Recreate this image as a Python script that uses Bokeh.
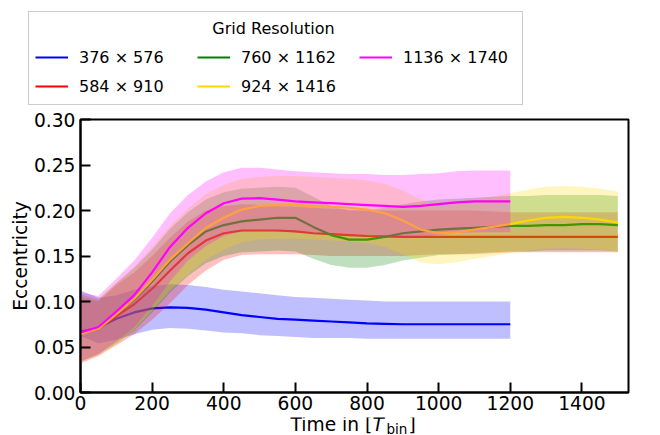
from bokeh.plotting import figure
from bokeh.layouts import column
from bokeh.models import Range1d, FixedTicker, PrintfTickFormatter, Legend, LegendItem, Label, ColumnDataSource
from bokeh.embed import file_html
from bokeh.resources import INLINE

# ---------------- data ----------------
t_short = [0, 50, 100, 150, 200, 250, 300, 350, 400, 450, 500, 550, 600, 650,
           700, 750, 800, 850, 900, 950, 1000, 1050, 1100, 1150, 1200]
t_long = [0, 50, 100, 150, 200, 250, 300, 350, 400, 450, 500, 550, 600, 650,
          700, 750, 800, 850, 900, 950, 1000, 1050, 1100, 1150, 1200, 1250,
          1300, 1350, 1400, 1450, 1500]

labels = ["376 × 576", "584 × 910", "760 × 1162", "924 × 1416", "1136 × 1740"]
colors = ["#0000ff", "#ff0000", "#008000", "#ffd700", "#ff00ff"]

blue_mean = [0.067, 0.071, 0.081, 0.088, 0.0925, 0.0935, 0.093, 0.091, 0.088, 0.085, 0.083, 0.081, 0.080,
             0.079, 0.078, 0.077, 0.076, 0.0755, 0.075, 0.075, 0.075, 0.075, 0.075, 0.075, 0.075]
blue_upper = [0.112, 0.104, 0.107, 0.113, 0.117, 0.119, 0.118, 0.116, 0.113, 0.111, 0.109, 0.107, 0.105,
              0.104, 0.103, 0.102, 0.101, 0.100, 0.100, 0.100, 0.100, 0.100, 0.100, 0.100, 0.100]
blue_lower = [0.062, 0.054, 0.058, 0.064, 0.069, 0.071, 0.070, 0.068, 0.066, 0.065, 0.063, 0.062, 0.061,
              0.060, 0.060, 0.060, 0.059, 0.059, 0.059, 0.059, 0.059, 0.059, 0.059, 0.059, 0.059]

red_mean = [0.065, 0.070, 0.084, 0.097, 0.114, 0.134, 0.153, 0.167, 0.175, 0.178, 0.178, 0.178, 0.177, 0.175,
            0.174, 0.173, 0.172, 0.1715, 0.171, 0.171, 0.171, 0.171, 0.171, 0.171, 0.171, 0.171, 0.171,
            0.171, 0.171, 0.171, 0.171]
red_upper = [0.105, 0.100, 0.118, 0.132, 0.150, 0.170, 0.188, 0.200, 0.205, 0.207, 0.206, 0.205, 0.204, 0.203,
             0.202, 0.201, 0.200, 0.200, 0.200, 0.200, 0.200, 0.200, 0.200, 0.199, 0.198, 0.198, 0.198,
             0.198, 0.198, 0.198, 0.198]
red_lower = [0.032, 0.040, 0.052, 0.064, 0.080, 0.098, 0.118, 0.134, 0.146, 0.151, 0.152, 0.152, 0.152, 0.151,
             0.150, 0.150, 0.150, 0.150, 0.150, 0.151, 0.152, 0.152, 0.152, 0.153, 0.154, 0.154, 0.154,
             0.154, 0.154, 0.154, 0.154]

green_mean = [0.065, 0.070, 0.086, 0.102, 0.122, 0.144, 0.162, 0.177, 0.184, 0.188, 0.190, 0.192, 0.192, 0.182,
              0.173, 0.168, 0.168, 0.171, 0.175, 0.177, 0.179, 0.180, 0.181, 0.182, 0.183, 0.183, 0.184,
              0.184, 0.185, 0.185, 0.184]
green_upper = [0.108, 0.102, 0.120, 0.137, 0.157, 0.180, 0.198, 0.212, 0.220, 0.224, 0.225, 0.226, 0.225, 0.215,
               0.205, 0.200, 0.200, 0.203, 0.207, 0.210, 0.212, 0.213, 0.214, 0.215, 0.216, 0.216, 0.217,
               0.217, 0.217, 0.217, 0.216]
green_lower = [0.034, 0.042, 0.054, 0.068, 0.088, 0.110, 0.128, 0.142, 0.150, 0.154, 0.155, 0.156, 0.155, 0.147,
               0.140, 0.137, 0.137, 0.140, 0.145, 0.148, 0.151, 0.152, 0.153, 0.154, 0.155, 0.155, 0.156,
               0.156, 0.156, 0.156, 0.155]

yellow_mean = [0.064, 0.070, 0.086, 0.103, 0.124, 0.146, 0.164, 0.181, 0.192, 0.201, 0.205, 0.206, 0.206, 0.205,
               0.204, 0.203, 0.201, 0.197, 0.189, 0.179, 0.175, 0.176, 0.179, 0.182, 0.185, 0.189, 0.192,
               0.193, 0.192, 0.190, 0.187]
yellow_upper = [0.108, 0.103, 0.121, 0.138, 0.160, 0.183, 0.202, 0.218, 0.228, 0.235, 0.237, 0.238, 0.238, 0.237,
                0.236, 0.235, 0.233, 0.229, 0.222, 0.212, 0.208, 0.209, 0.212, 0.215, 0.219, 0.223, 0.226,
                0.227, 0.226, 0.224, 0.221]
yellow_lower = [0.033, 0.041, 0.053, 0.069, 0.090, 0.112, 0.130, 0.146, 0.157, 0.165, 0.168, 0.169, 0.169, 0.168,
                0.167, 0.166, 0.164, 0.160, 0.152, 0.143, 0.141, 0.143, 0.147, 0.150, 0.153, 0.156, 0.158,
                0.159, 0.158, 0.157, 0.155]

magenta_mean = [0.066, 0.072, 0.089, 0.107, 0.132, 0.160, 0.181, 0.197, 0.208, 0.213, 0.2135, 0.212, 0.210,
                0.209, 0.208, 0.207, 0.206, 0.205, 0.204, 0.205, 0.207, 0.209, 0.210, 0.210, 0.210]
magenta_upper = [0.110, 0.106, 0.125, 0.145, 0.170, 0.197, 0.217, 0.232, 0.242, 0.247, 0.247, 0.245, 0.243,
                 0.242, 0.241, 0.240, 0.240, 0.239, 0.239, 0.240, 0.241, 0.243, 0.244, 0.244, 0.244]
magenta_lower = [0.034, 0.042, 0.056, 0.072, 0.095, 0.122, 0.145, 0.161, 0.172, 0.177, 0.178, 0.177, 0.176,
                 0.175, 0.174, 0.173, 0.172, 0.171, 0.170, 0.171, 0.173, 0.175, 0.176, 0.176, 0.176]

x_ticks = [0, 200, 400, 600, 800, 1000, 1200, 1400]
y_ticks = [0.0, 0.05, 0.10, 0.15, 0.20, 0.25, 0.30]

series = [
    (t_short, blue_mean, blue_upper, blue_lower),
    (t_long, red_mean, red_upper, red_lower),
    (t_long, green_mean, green_upper, green_lower),
    (t_long, yellow_mean, yellow_upper, yellow_lower),
    (t_short, magenta_mean, magenta_upper, magenta_lower),
]

FONT = "DejaVu Sans"
W = 660
TOP_H = 107
BOT_H = 18
MAIN_H = 435 - TOP_H - BOT_H

# ---------------- main plot ----------------
p = figure(width=W, height=MAIN_H, output_backend="svg", toolbar_location=None, title=None,
           x_range=Range1d(0, 1530), y_range=Range1d(0, 0.30), frame_align=False,
           min_border_left=80, min_border_right=32, min_border_top=119 - TOP_H, min_border_bottom=25)
p.xgrid.visible = False
p.ygrid.visible = False
p.outline_line_color = "black"
p.outline_line_width = 2
p.outline_line_alpha = 1
p.background_fill_color = "white"
p.border_fill_color = "white"

p.xaxis.ticker = FixedTicker(ticks=x_ticks)
p.yaxis.ticker = FixedTicker(ticks=y_ticks)
p.yaxis.formatter = PrintfTickFormatter(format="%.2f")
for ax in (p.xaxis, p.yaxis):
    ax.major_tick_in = 10
    ax.major_tick_out = 0
    ax.minor_tick_in = 0
    ax.minor_tick_out = 0
    ax.major_tick_line_width = 2
    ax.major_tick_line_color = "black"
    ax.axis_line_width = 2
    ax.axis_line_color = "black"
    ax.major_label_text_font = FONT
    ax.major_label_text_font_size = "18.67px"
    ax.major_label_text_color = "black"
    ax.major_label_standoff = 5
p.xaxis.major_label_standoff = 3
p.yaxis.axis_label = "Eccentricity"
p.yaxis.axis_label_text_font = FONT
p.yaxis.axis_label_text_font_size = "18.67px"
p.yaxis.axis_label_text_font_style = "normal"
p.yaxis.axis_label_text_color = "black"
p.yaxis.axis_label_standoff = 0

for (t, m, up, lo), col in zip(series, colors):
    src = ColumnDataSource(dict(t=t, m=m, up=up, lo=lo))
    p.line("t", "m", source=src, line_color=col, line_width=2.2)
    p.varea(x="t", y1="lo", y2="up", source=src, fill_color=col, fill_alpha=0.25)

# ---------------- legend strip (top) ----------------
top = figure(width=W, height=TOP_H, output_backend="svg", toolbar_location=None, title=None,
             x_range=Range1d(-20, -10), y_range=Range1d(-20, -10), x_axis_type=None, y_axis_type=None,
             frame_align=False,
             min_border_left=0, min_border_right=0, min_border_top=0, min_border_bottom=0)
top.xgrid.visible = False
top.ygrid.visible = False
top.outline_line_color = None
top.border_fill_color = "white"
items = []
for (t, m, up, lo), lab, col in zip(series, labels, colors):
    rr = top.line(x=t, y=m, line_color=col, line_width=2.2)
    items.append(LegendItem(label=lab, renderers=[rr]))
legend = Legend(items=items, location=(28, TOP_H - 105), orientation="vertical", nrows=2,
                title=" ", title_text_font_size="16px", title_standoff=9,
                padding=6, spacing=5, margin=0,
                glyph_width=33, glyph_height=24, label_height=24, label_width=113,
                label_standoff=11, label_text_font=FONT, label_text_font_size="16px",
                label_text_color="black",
                border_line_color="#cccccc", border_line_width=1, border_line_alpha=1,
                background_fill_color="white", background_fill_alpha=0)
top.add_layout(legend, "center")
top.add_layout(Label(x=273, y=TOP_H - 28.3, x_units="screen", y_units="screen", text="Grid Resolution",
                     text_font=FONT, text_font_size="16px", text_align="center",
                     text_baseline="middle", text_color="black"))

# ---------------- x-axis label strip (bottom) ----------------
bot = figure(width=W, height=BOT_H, output_backend="svg", toolbar_location=None, title=None,
             x_range=Range1d(0, 1), y_range=Range1d(0, 1), x_axis_type=None, y_axis_type=None,
             frame_align=False,
             min_border_left=0, min_border_right=0, min_border_top=0, min_border_bottom=0)
bot.xgrid.visible = False
bot.ygrid.visible = False
bot.outline_line_color = None
bot.border_fill_color = "white"
mid_main = 435 - 424.0     # vertical middle of the main label text
mid_sub = 435 - 428.8      # vertical middle of the subscript
bot.add_layout(Label(x=290, y=mid_main, x_units="screen", y_units="screen", text="Time in [",
                     text_font=FONT, text_font_size="18.67px", text_baseline="middle",
                     text_align="left", text_color="black"))
bot.add_layout(Label(x=372, y=mid_main, x_units="screen", y_units="screen", text="T",
                     text_font=FONT, text_font_size="18.67px", text_font_style="italic",
                     text_baseline="middle", text_align="left", text_color="black"))
bot.add_layout(Label(x=386, y=mid_sub, x_units="screen", y_units="screen", text="bin",
                     text_font=FONT, text_font_size="13.5px", text_baseline="middle",
                     text_align="left", text_color="black"))
bot.add_layout(Label(x=408, y=mid_main, x_units="screen", y_units="screen", text="]",
                     text_font=FONT, text_font_size="18.67px", text_baseline="middle",
                     text_align="left", text_color="black"))

layout = column(top, p, bot, spacing=0)
open("out.html", "w").write(file_html(layout, INLINE))
